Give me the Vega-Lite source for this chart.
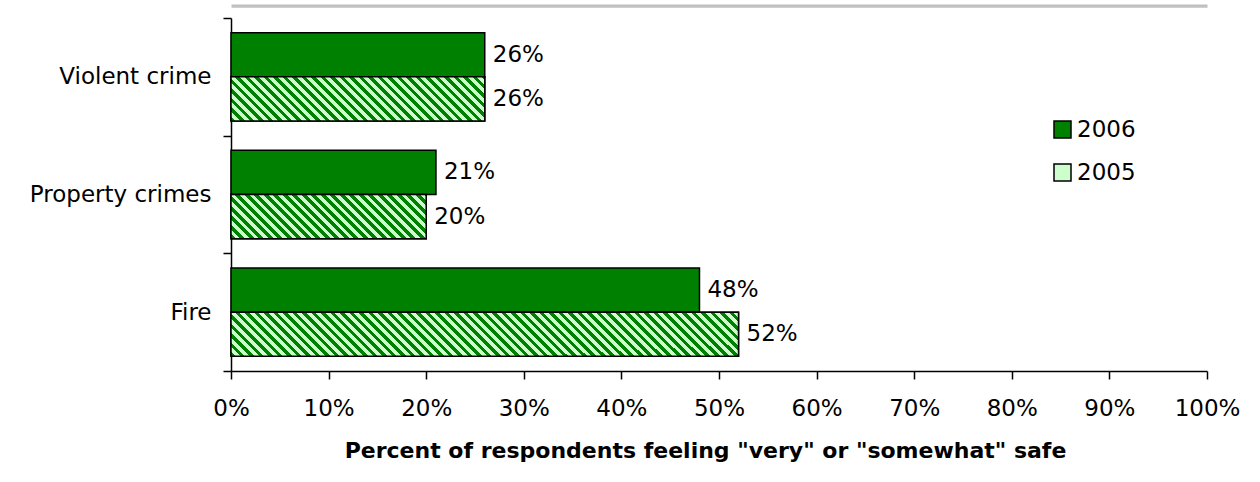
{
  "$schema": "https://vega.github.io/schema/vega-lite/v6.json",
  "width": 976,
  "height": 353,
  "autosize": {"type": "none"},
  "padding": {"left": 231, "top": 18, "right": 53, "bottom": 111},
  "background": "white",
  "config": {"font": "DejaVu Sans", "view": {"stroke": null}, "axis": {"grid": false}},
  "data": {
    "values": [
      {"cat": "Violent crime", "year": "2006", "pct": 0.26},
      {"cat": "Violent crime", "year": "2005", "pct": 0.26},
      {"cat": "Property crimes", "year": "2006", "pct": 0.21},
      {"cat": "Property crimes", "year": "2005", "pct": 0.20},
      {"cat": "Fire", "year": "2006", "pct": 0.48},
      {"cat": "Fire", "year": "2005", "pct": 0.52}
    ]
  },
  "encoding": {
    "y": {"field": "cat", "type": "nominal", "title": null, "scale": {"domain": ["Violent crime", "Property crimes", "Fire"], "paddingInner": 0, "paddingOuter": 0},
      "axis": {"title": null, "domainColor": "black", "domainWidth": 1.5, "tickColor": "black", "tickWidth": 1.5, "tickSize": 8, "tickBand": "extent", "labelFontSize": 23, "labelColor": "black", "labelPadding": 12, "labelLimit": 400, "labelFont": "DejaVu Sans"}},
    "yOffset": {"field": "year", "type": "nominal", "scale": {"domain": ["2006", "2005"], "paddingInner": 0, "paddingOuter": 0.3333}},
    "x": {"field": "pct", "type": "quantitative", "scale": {"domain": [0, 1], "nice": false}, "axis": null}
  },
  "layer": [
    {
      "mark": {"type": "bar", "stroke": "black", "strokeWidth": 1.5},
      "encoding": {
        "x": {"field": "pct", "type": "quantitative", "scale": {"domain": [0, 1], "nice": false},
          "axis": {"values": [0, 0.1, 0.2, 0.3, 0.4, 0.5, 0.6, 0.7, 0.8, 0.9, 1], "format": ".0%", "title": "Percent of respondents feeling \"very\" or \"somewhat\" safe", "titleFontSize": 22, "titleFontWeight": "bold", "titleColor": "black", "titleFont": "DejaVu Sans", "titleBaseline": "alphabetic", "titleY": 86, "titleX": 474, "labelFontSize": 23, "labelColor": "black", "labelFont": "DejaVu Sans", "labelPadding": 18, "labelFlush": false, "labelOverlap": false, "tickSize": 8, "tickColor": "black", "tickWidth": 1.5, "domainColor": "black", "domainWidth": 1.5}},
        "fill": {"field": "year", "type": "nominal", "scale": {"domain": ["2006", "2005"], "range": ["green", "#cfc"]},
          "legend": {"orient": "none", "legendX": 820, "legendY": 100, "title": null, "symbolType": "square", "symbolSize": 289, "symbolStrokeColor": "black", "symbolStrokeWidth": 1.5, "labelFontSize": 23, "labelColor": "black", "labelFont": "DejaVu Sans", "labelOffset": 3, "rowPadding": 19, "padding": 0}}
      }
    },
    {
      "transform": [{"filter": "datum.year === '2005' && datum.cat === 'Violent crime'"}],
      "mark": {"type": "bar", "stroke": "black", "strokeWidth": 1.5, "fill": {"gradient": "linear", "x1": 0, "y1": 1, "x2": 3.634, "y2": 0.368, "stops": [
        {"offset":0,"color":"green"},{"offset":0.005,"color":"green"},{"offset":0.005,"color":"#cfc"},{"offset":0.01,"color":"#cfc"},
        {"offset":0.01,"color":"green"},{"offset":0.015,"color":"green"},{"offset":0.015,"color":"#cfc"},{"offset":0.02,"color":"#cfc"},
        {"offset":0.02,"color":"green"},{"offset":0.025,"color":"green"},{"offset":0.025,"color":"#cfc"},{"offset":0.03,"color":"#cfc"},
        {"offset":0.03,"color":"green"},{"offset":0.035,"color":"green"},{"offset":0.035,"color":"#cfc"},{"offset":0.04,"color":"#cfc"},
        {"offset":0.04,"color":"green"},{"offset":0.045,"color":"green"},{"offset":0.045,"color":"#cfc"},{"offset":0.05,"color":"#cfc"},
        {"offset":0.05,"color":"green"},{"offset":0.055,"color":"green"},{"offset":0.055,"color":"#cfc"},{"offset":0.06,"color":"#cfc"},
        {"offset":0.06,"color":"green"},{"offset":0.065,"color":"green"},{"offset":0.065,"color":"#cfc"},{"offset":0.07,"color":"#cfc"},
        {"offset":0.07,"color":"green"},{"offset":0.075,"color":"green"},{"offset":0.075,"color":"#cfc"},{"offset":0.08,"color":"#cfc"},
        {"offset":0.08,"color":"green"},{"offset":0.085,"color":"green"},{"offset":0.085,"color":"#cfc"},{"offset":0.09,"color":"#cfc"},
        {"offset":0.09,"color":"green"},{"offset":0.095,"color":"green"},{"offset":0.095,"color":"#cfc"},{"offset":0.1,"color":"#cfc"},
        {"offset":0.1,"color":"green"},{"offset":0.105,"color":"green"},{"offset":0.105,"color":"#cfc"},{"offset":0.11,"color":"#cfc"},
        {"offset":0.11,"color":"green"},{"offset":0.115,"color":"green"},{"offset":0.115,"color":"#cfc"},{"offset":0.12,"color":"#cfc"},
        {"offset":0.12,"color":"green"},{"offset":0.125,"color":"green"},{"offset":0.125,"color":"#cfc"},{"offset":0.13,"color":"#cfc"},
        {"offset":0.13,"color":"green"},{"offset":0.135,"color":"green"},{"offset":0.135,"color":"#cfc"},{"offset":0.14,"color":"#cfc"},
        {"offset":0.14,"color":"green"},{"offset":0.145,"color":"green"},{"offset":0.145,"color":"#cfc"},{"offset":0.15,"color":"#cfc"},
        {"offset":0.15,"color":"green"},{"offset":0.155,"color":"green"},{"offset":0.155,"color":"#cfc"},{"offset":0.16,"color":"#cfc"},
        {"offset":0.16,"color":"green"},{"offset":0.165,"color":"green"},{"offset":0.165,"color":"#cfc"},{"offset":0.17,"color":"#cfc"},
        {"offset":0.17,"color":"green"},{"offset":0.175,"color":"green"},{"offset":0.175,"color":"#cfc"},{"offset":0.18,"color":"#cfc"},
        {"offset":0.18,"color":"green"},{"offset":0.185,"color":"green"},{"offset":0.185,"color":"#cfc"},{"offset":0.19,"color":"#cfc"},
        {"offset":0.19,"color":"green"},{"offset":0.195,"color":"green"},{"offset":0.195,"color":"#cfc"},{"offset":0.2,"color":"#cfc"},
        {"offset":0.2,"color":"green"},{"offset":0.205,"color":"green"},{"offset":0.205,"color":"#cfc"},{"offset":0.21,"color":"#cfc"},
        {"offset":0.21,"color":"green"},{"offset":0.215,"color":"green"},{"offset":0.215,"color":"#cfc"},{"offset":0.22,"color":"#cfc"},
        {"offset":0.22,"color":"green"},{"offset":0.225,"color":"green"},{"offset":0.225,"color":"#cfc"},{"offset":0.23,"color":"#cfc"},
        {"offset":0.23,"color":"green"},{"offset":0.235,"color":"green"},{"offset":0.235,"color":"#cfc"},{"offset":0.24,"color":"#cfc"},
        {"offset":0.24,"color":"green"},{"offset":0.245,"color":"green"},{"offset":0.245,"color":"#cfc"},{"offset":0.25,"color":"#cfc"},
        {"offset":0.25,"color":"green"},{"offset":0.255,"color":"green"},{"offset":0.255,"color":"#cfc"},{"offset":0.26,"color":"#cfc"},
        {"offset":0.26,"color":"green"},{"offset":0.265,"color":"green"},{"offset":0.265,"color":"#cfc"},{"offset":0.27,"color":"#cfc"},
        {"offset":0.27,"color":"green"},{"offset":0.275,"color":"green"},{"offset":0.275,"color":"#cfc"},{"offset":0.28,"color":"#cfc"},
        {"offset":0.28,"color":"green"},{"offset":0.285,"color":"green"},{"offset":0.285,"color":"#cfc"},{"offset":0.29,"color":"#cfc"},
        {"offset":0.29,"color":"green"},{"offset":0.295,"color":"green"},{"offset":0.295,"color":"#cfc"},{"offset":0.3,"color":"#cfc"},
        {"offset":0.3,"color":"green"},{"offset":0.305,"color":"green"},{"offset":0.305,"color":"#cfc"},{"offset":0.31,"color":"#cfc"},
        {"offset":0.31,"color":"green"},{"offset":0.315,"color":"green"},{"offset":0.315,"color":"#cfc"},{"offset":0.32,"color":"#cfc"}
      ]}}
    },
    {
      "transform": [{"filter": "datum.year === '2005' && datum.cat === 'Property crimes'"}],
      "mark": {"type": "bar", "stroke": "black", "strokeWidth": 1.5, "fill": {"gradient": "linear", "x1": 0, "y1": 1, "x2": 4.630, "y2": -0.047, "stops": [
        {"offset":0,"color":"green"},{"offset":0.005,"color":"green"},{"offset":0.005,"color":"#cfc"},{"offset":0.01,"color":"#cfc"},
        {"offset":0.01,"color":"green"},{"offset":0.015,"color":"green"},{"offset":0.015,"color":"#cfc"},{"offset":0.02,"color":"#cfc"},
        {"offset":0.02,"color":"green"},{"offset":0.025,"color":"green"},{"offset":0.025,"color":"#cfc"},{"offset":0.03,"color":"#cfc"},
        {"offset":0.03,"color":"green"},{"offset":0.035,"color":"green"},{"offset":0.035,"color":"#cfc"},{"offset":0.04,"color":"#cfc"},
        {"offset":0.04,"color":"green"},{"offset":0.045,"color":"green"},{"offset":0.045,"color":"#cfc"},{"offset":0.05,"color":"#cfc"},
        {"offset":0.05,"color":"green"},{"offset":0.055,"color":"green"},{"offset":0.055,"color":"#cfc"},{"offset":0.06,"color":"#cfc"},
        {"offset":0.06,"color":"green"},{"offset":0.065,"color":"green"},{"offset":0.065,"color":"#cfc"},{"offset":0.07,"color":"#cfc"},
        {"offset":0.07,"color":"green"},{"offset":0.075,"color":"green"},{"offset":0.075,"color":"#cfc"},{"offset":0.08,"color":"#cfc"},
        {"offset":0.08,"color":"green"},{"offset":0.085,"color":"green"},{"offset":0.085,"color":"#cfc"},{"offset":0.09,"color":"#cfc"},
        {"offset":0.09,"color":"green"},{"offset":0.095,"color":"green"},{"offset":0.095,"color":"#cfc"},{"offset":0.1,"color":"#cfc"},
        {"offset":0.1,"color":"green"},{"offset":0.105,"color":"green"},{"offset":0.105,"color":"#cfc"},{"offset":0.11,"color":"#cfc"},
        {"offset":0.11,"color":"green"},{"offset":0.115,"color":"green"},{"offset":0.115,"color":"#cfc"},{"offset":0.12,"color":"#cfc"},
        {"offset":0.12,"color":"green"},{"offset":0.125,"color":"green"},{"offset":0.125,"color":"#cfc"},{"offset":0.13,"color":"#cfc"},
        {"offset":0.13,"color":"green"},{"offset":0.135,"color":"green"},{"offset":0.135,"color":"#cfc"},{"offset":0.14,"color":"#cfc"},
        {"offset":0.14,"color":"green"},{"offset":0.145,"color":"green"},{"offset":0.145,"color":"#cfc"},{"offset":0.15,"color":"#cfc"},
        {"offset":0.15,"color":"green"},{"offset":0.155,"color":"green"},{"offset":0.155,"color":"#cfc"},{"offset":0.16,"color":"#cfc"},
        {"offset":0.16,"color":"green"},{"offset":0.165,"color":"green"},{"offset":0.165,"color":"#cfc"},{"offset":0.17,"color":"#cfc"},
        {"offset":0.17,"color":"green"},{"offset":0.175,"color":"green"},{"offset":0.175,"color":"#cfc"},{"offset":0.18,"color":"#cfc"},
        {"offset":0.18,"color":"green"},{"offset":0.185,"color":"green"},{"offset":0.185,"color":"#cfc"},{"offset":0.19,"color":"#cfc"},
        {"offset":0.19,"color":"green"},{"offset":0.195,"color":"green"},{"offset":0.195,"color":"#cfc"},{"offset":0.2,"color":"#cfc"},
        {"offset":0.2,"color":"green"},{"offset":0.205,"color":"green"},{"offset":0.205,"color":"#cfc"},{"offset":0.21,"color":"#cfc"},
        {"offset":0.21,"color":"green"},{"offset":0.215,"color":"green"},{"offset":0.215,"color":"#cfc"},{"offset":0.22,"color":"#cfc"},
        {"offset":0.22,"color":"green"},{"offset":0.225,"color":"green"},{"offset":0.225,"color":"#cfc"},{"offset":0.23,"color":"#cfc"},
        {"offset":0.23,"color":"green"},{"offset":0.235,"color":"green"},{"offset":0.235,"color":"#cfc"},{"offset":0.24,"color":"#cfc"},
        {"offset":0.24,"color":"green"},{"offset":0.245,"color":"green"},{"offset":0.245,"color":"#cfc"},{"offset":0.25,"color":"#cfc"},
        {"offset":0.25,"color":"green"},{"offset":0.255,"color":"green"},{"offset":0.255,"color":"#cfc"},{"offset":0.26,"color":"#cfc"}
      ]}}
    },
    {
      "transform": [{"filter": "datum.year === '2005' && datum.cat === 'Fire'"}],
      "mark": {"type": "bar", "stroke": "black", "strokeWidth": 1.5, "fill": {"gradient": "linear", "x1": 0, "y1": 1, "x2": 1.858, "y2": 0.838, "stops": [
        {"offset":0,"color":"green"},{"offset":0.005,"color":"green"},{"offset":0.005,"color":"#cfc"},{"offset":0.01,"color":"#cfc"},
        {"offset":0.01,"color":"green"},{"offset":0.015,"color":"green"},{"offset":0.015,"color":"#cfc"},{"offset":0.02,"color":"#cfc"},
        {"offset":0.02,"color":"green"},{"offset":0.025,"color":"green"},{"offset":0.025,"color":"#cfc"},{"offset":0.03,"color":"#cfc"},
        {"offset":0.03,"color":"green"},{"offset":0.035,"color":"green"},{"offset":0.035,"color":"#cfc"},{"offset":0.04,"color":"#cfc"},
        {"offset":0.04,"color":"green"},{"offset":0.045,"color":"green"},{"offset":0.045,"color":"#cfc"},{"offset":0.05,"color":"#cfc"},
        {"offset":0.05,"color":"green"},{"offset":0.055,"color":"green"},{"offset":0.055,"color":"#cfc"},{"offset":0.06,"color":"#cfc"},
        {"offset":0.06,"color":"green"},{"offset":0.065,"color":"green"},{"offset":0.065,"color":"#cfc"},{"offset":0.07,"color":"#cfc"},
        {"offset":0.07,"color":"green"},{"offset":0.075,"color":"green"},{"offset":0.075,"color":"#cfc"},{"offset":0.08,"color":"#cfc"},
        {"offset":0.08,"color":"green"},{"offset":0.085,"color":"green"},{"offset":0.085,"color":"#cfc"},{"offset":0.09,"color":"#cfc"},
        {"offset":0.09,"color":"green"},{"offset":0.095,"color":"green"},{"offset":0.095,"color":"#cfc"},{"offset":0.1,"color":"#cfc"},
        {"offset":0.1,"color":"green"},{"offset":0.105,"color":"green"},{"offset":0.105,"color":"#cfc"},{"offset":0.11,"color":"#cfc"},
        {"offset":0.11,"color":"green"},{"offset":0.115,"color":"green"},{"offset":0.115,"color":"#cfc"},{"offset":0.12,"color":"#cfc"},
        {"offset":0.12,"color":"green"},{"offset":0.125,"color":"green"},{"offset":0.125,"color":"#cfc"},{"offset":0.13,"color":"#cfc"},
        {"offset":0.13,"color":"green"},{"offset":0.135,"color":"green"},{"offset":0.135,"color":"#cfc"},{"offset":0.14,"color":"#cfc"},
        {"offset":0.14,"color":"green"},{"offset":0.145,"color":"green"},{"offset":0.145,"color":"#cfc"},{"offset":0.15,"color":"#cfc"},
        {"offset":0.15,"color":"green"},{"offset":0.155,"color":"green"},{"offset":0.155,"color":"#cfc"},{"offset":0.16,"color":"#cfc"},
        {"offset":0.16,"color":"green"},{"offset":0.165,"color":"green"},{"offset":0.165,"color":"#cfc"},{"offset":0.17,"color":"#cfc"},
        {"offset":0.17,"color":"green"},{"offset":0.175,"color":"green"},{"offset":0.175,"color":"#cfc"},{"offset":0.18,"color":"#cfc"},
        {"offset":0.18,"color":"green"},{"offset":0.185,"color":"green"},{"offset":0.185,"color":"#cfc"},{"offset":0.19,"color":"#cfc"},
        {"offset":0.19,"color":"green"},{"offset":0.195,"color":"green"},{"offset":0.195,"color":"#cfc"},{"offset":0.2,"color":"#cfc"},
        {"offset":0.2,"color":"green"},{"offset":0.205,"color":"green"},{"offset":0.205,"color":"#cfc"},{"offset":0.21,"color":"#cfc"},
        {"offset":0.21,"color":"green"},{"offset":0.215,"color":"green"},{"offset":0.215,"color":"#cfc"},{"offset":0.22,"color":"#cfc"},
        {"offset":0.22,"color":"green"},{"offset":0.225,"color":"green"},{"offset":0.225,"color":"#cfc"},{"offset":0.23,"color":"#cfc"},
        {"offset":0.23,"color":"green"},{"offset":0.235,"color":"green"},{"offset":0.235,"color":"#cfc"},{"offset":0.24,"color":"#cfc"},
        {"offset":0.24,"color":"green"},{"offset":0.245,"color":"green"},{"offset":0.245,"color":"#cfc"},{"offset":0.25,"color":"#cfc"},
        {"offset":0.25,"color":"green"},{"offset":0.255,"color":"green"},{"offset":0.255,"color":"#cfc"},{"offset":0.26,"color":"#cfc"},
        {"offset":0.26,"color":"green"},{"offset":0.265,"color":"green"},{"offset":0.265,"color":"#cfc"},{"offset":0.27,"color":"#cfc"},
        {"offset":0.27,"color":"green"},{"offset":0.275,"color":"green"},{"offset":0.275,"color":"#cfc"},{"offset":0.28,"color":"#cfc"},
        {"offset":0.28,"color":"green"},{"offset":0.285,"color":"green"},{"offset":0.285,"color":"#cfc"},{"offset":0.29,"color":"#cfc"},
        {"offset":0.29,"color":"green"},{"offset":0.295,"color":"green"},{"offset":0.295,"color":"#cfc"},{"offset":0.3,"color":"#cfc"},
        {"offset":0.3,"color":"green"},{"offset":0.305,"color":"green"},{"offset":0.305,"color":"#cfc"},{"offset":0.31,"color":"#cfc"},
        {"offset":0.31,"color":"green"},{"offset":0.315,"color":"green"},{"offset":0.315,"color":"#cfc"},{"offset":0.32,"color":"#cfc"},
        {"offset":0.32,"color":"green"},{"offset":0.325,"color":"green"},{"offset":0.325,"color":"#cfc"},{"offset":0.33,"color":"#cfc"},
        {"offset":0.33,"color":"green"},{"offset":0.335,"color":"green"},{"offset":0.335,"color":"#cfc"},{"offset":0.34,"color":"#cfc"},
        {"offset":0.34,"color":"green"},{"offset":0.345,"color":"green"},{"offset":0.345,"color":"#cfc"},{"offset":0.35,"color":"#cfc"},
        {"offset":0.35,"color":"green"},{"offset":0.355,"color":"green"},{"offset":0.355,"color":"#cfc"},{"offset":0.36,"color":"#cfc"},
        {"offset":0.36,"color":"green"},{"offset":0.365,"color":"green"},{"offset":0.365,"color":"#cfc"},{"offset":0.37,"color":"#cfc"},
        {"offset":0.37,"color":"green"},{"offset":0.375,"color":"green"},{"offset":0.375,"color":"#cfc"},{"offset":0.38,"color":"#cfc"},
        {"offset":0.38,"color":"green"},{"offset":0.385,"color":"green"},{"offset":0.385,"color":"#cfc"},{"offset":0.39,"color":"#cfc"},
        {"offset":0.39,"color":"green"},{"offset":0.395,"color":"green"},{"offset":0.395,"color":"#cfc"},{"offset":0.4,"color":"#cfc"},
        {"offset":0.4,"color":"green"},{"offset":0.405,"color":"green"},{"offset":0.405,"color":"#cfc"},{"offset":0.41,"color":"#cfc"},
        {"offset":0.41,"color":"green"},{"offset":0.415,"color":"green"},{"offset":0.415,"color":"#cfc"},{"offset":0.42,"color":"#cfc"},
        {"offset":0.42,"color":"green"},{"offset":0.425,"color":"green"},{"offset":0.425,"color":"#cfc"},{"offset":0.43,"color":"#cfc"},
        {"offset":0.43,"color":"green"},{"offset":0.435,"color":"green"},{"offset":0.435,"color":"#cfc"},{"offset":0.44,"color":"#cfc"},
        {"offset":0.44,"color":"green"},{"offset":0.445,"color":"green"},{"offset":0.445,"color":"#cfc"},{"offset":0.45,"color":"#cfc"},
        {"offset":0.45,"color":"green"},{"offset":0.455,"color":"green"},{"offset":0.455,"color":"#cfc"},{"offset":0.46,"color":"#cfc"},
        {"offset":0.46,"color":"green"},{"offset":0.465,"color":"green"},{"offset":0.465,"color":"#cfc"},{"offset":0.47,"color":"#cfc"},
        {"offset":0.47,"color":"green"},{"offset":0.475,"color":"green"},{"offset":0.475,"color":"#cfc"},{"offset":0.48,"color":"#cfc"},
        {"offset":0.48,"color":"green"},{"offset":0.485,"color":"green"},{"offset":0.485,"color":"#cfc"},{"offset":0.49,"color":"#cfc"},
        {"offset":0.49,"color":"green"},{"offset":0.495,"color":"green"},{"offset":0.495,"color":"#cfc"},{"offset":0.5,"color":"#cfc"},
        {"offset":0.5,"color":"green"},{"offset":0.505,"color":"green"},{"offset":0.505,"color":"#cfc"},{"offset":0.51,"color":"#cfc"},
        {"offset":0.51,"color":"green"},{"offset":0.515,"color":"green"},{"offset":0.515,"color":"#cfc"},{"offset":0.52,"color":"#cfc"},
        {"offset":0.52,"color":"green"},{"offset":0.525,"color":"green"},{"offset":0.525,"color":"#cfc"},{"offset":0.53,"color":"#cfc"},
        {"offset":0.53,"color":"green"},{"offset":0.535,"color":"green"},{"offset":0.535,"color":"#cfc"},{"offset":0.54,"color":"#cfc"},
        {"offset":0.54,"color":"green"},{"offset":0.545,"color":"green"},{"offset":0.545,"color":"#cfc"},{"offset":0.55,"color":"#cfc"},
        {"offset":0.55,"color":"green"},{"offset":0.555,"color":"green"},{"offset":0.555,"color":"#cfc"},{"offset":0.56,"color":"#cfc"},
        {"offset":0.56,"color":"green"},{"offset":0.565,"color":"green"},{"offset":0.565,"color":"#cfc"},{"offset":0.57,"color":"#cfc"},
        {"offset":0.57,"color":"green"},{"offset":0.575,"color":"green"},{"offset":0.575,"color":"#cfc"},{"offset":0.58,"color":"#cfc"},
        {"offset":0.58,"color":"green"},{"offset":0.585,"color":"green"},{"offset":0.585,"color":"#cfc"},{"offset":0.59,"color":"#cfc"}
      ]}}
    },
    {
      "mark": {"type": "text", "align": "left", "baseline": "middle", "dx": 8, "fontSize": 23, "font": "DejaVu Sans", "color": "black"},
      "encoding": {
        "text": {"field": "pct", "type": "quantitative", "format": ".0%"},
        "x": {"field": "pct", "type": "quantitative", "scale": {"domain": [0, 1], "nice": false},
          "axis": {"orient": "top", "labels": false, "ticks": false, "grid": false, "title": null, "domainColor": "#c0c0c0", "domainWidth": 3.3, "offset": 12.3}}
      }
    }
  ],
  "resolve": {"axis": {"x": "independent"}}
}
